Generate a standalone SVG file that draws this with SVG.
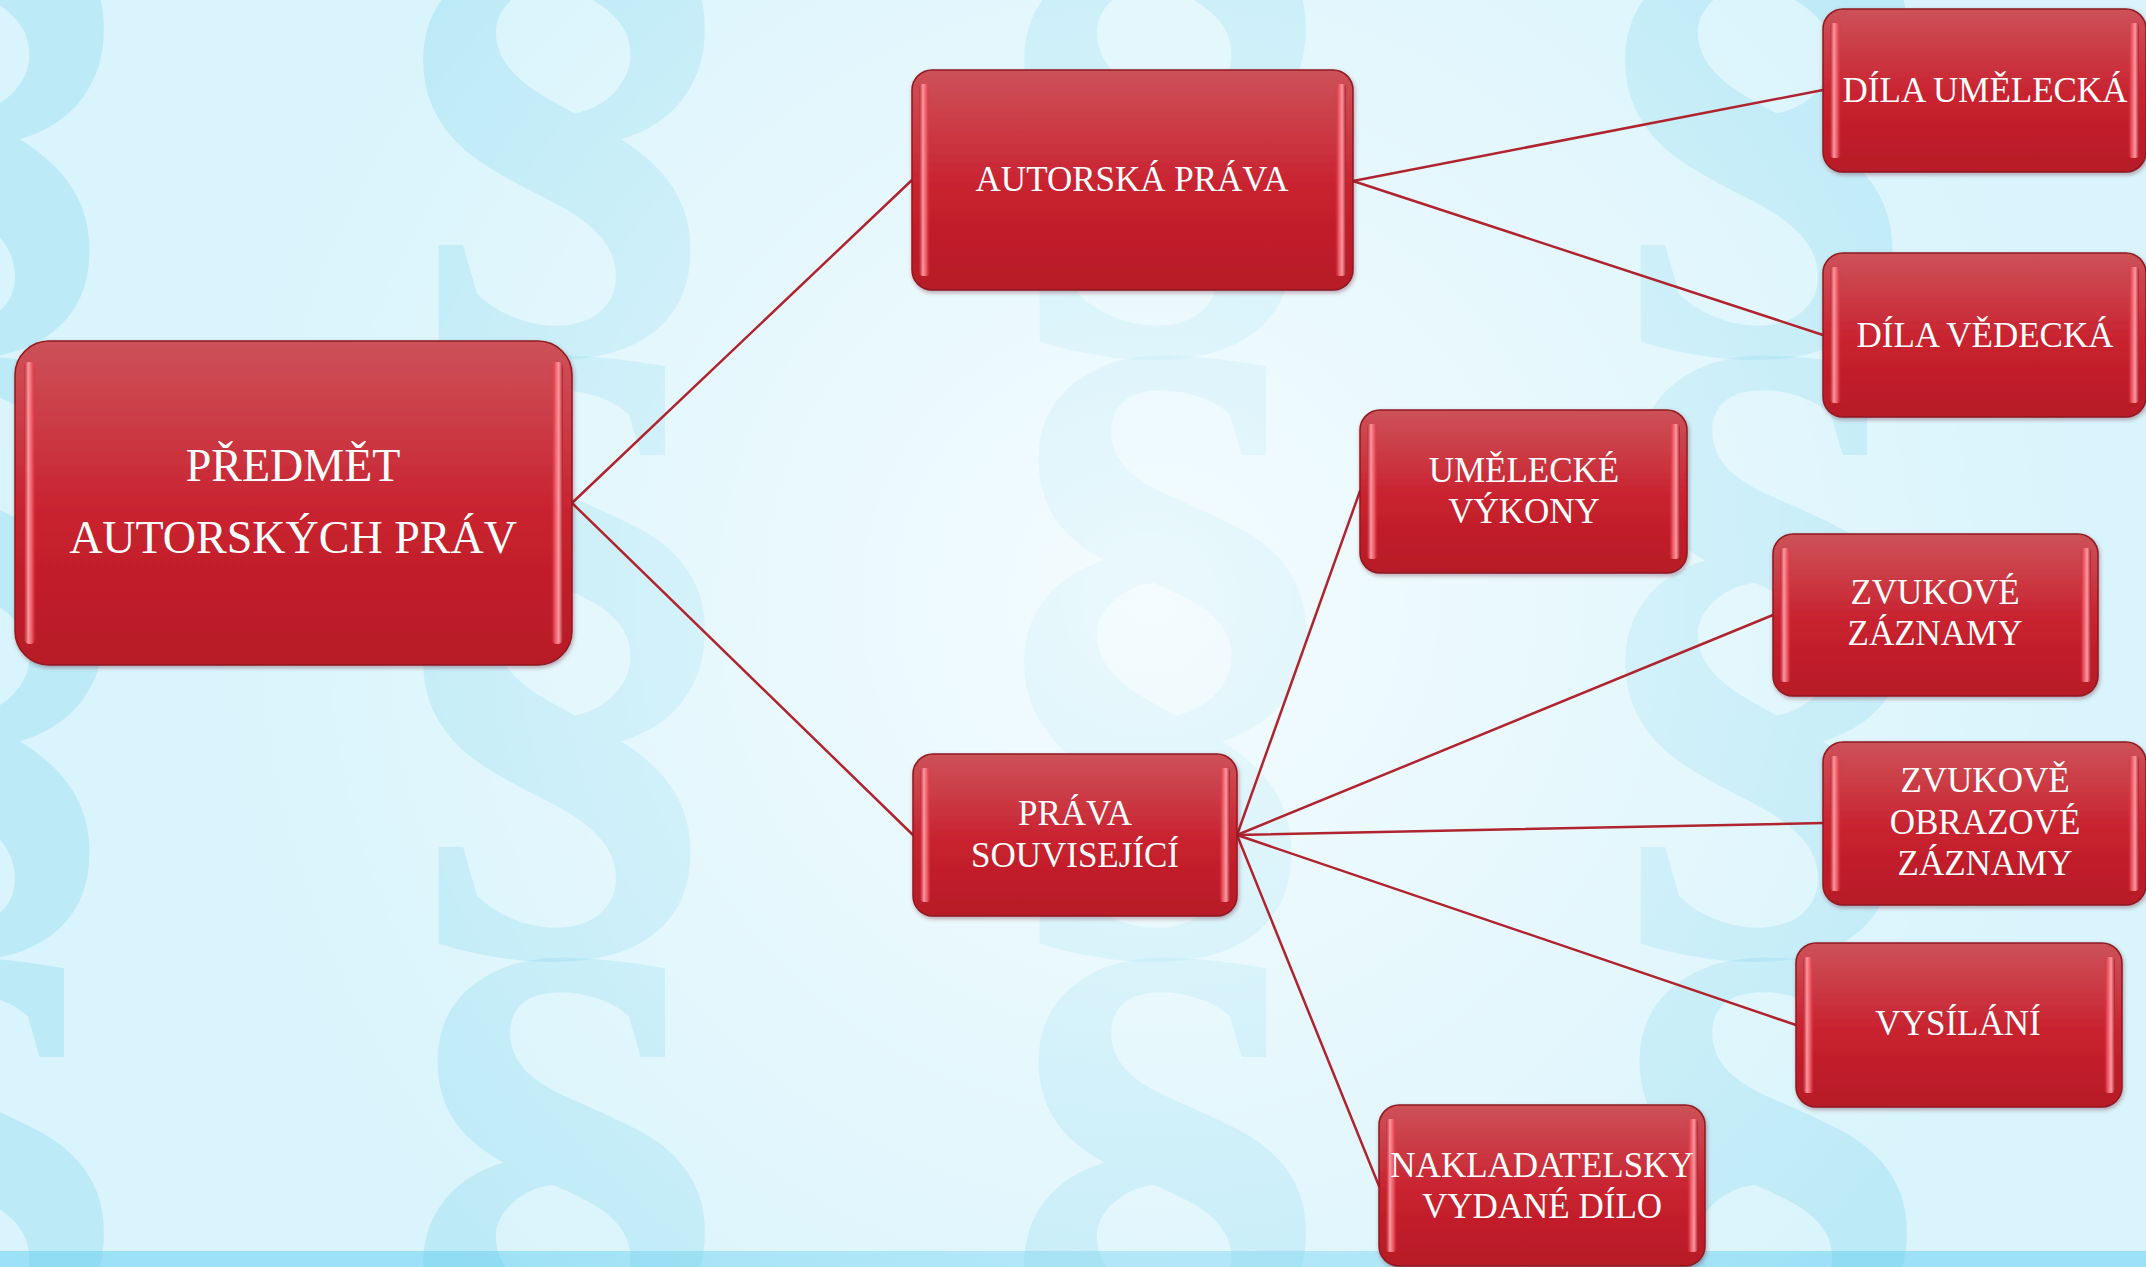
<svg xmlns="http://www.w3.org/2000/svg" width="2146" height="1267" viewBox="0 0 2146 1267">
<style>
.sec{font-family:"Liberation Serif",serif;font-weight:bold;font-size:755px;fill:#6fcfe8;fill-opacity:0.27;text-anchor:middle}
.lbl{font-family:"Liberation Serif",serif;font-size:35px;fill:#ffffff;text-anchor:middle}
.big{font-size:46px}
.conn{stroke:#b0242f;stroke-width:2.5;fill:none;stroke-linecap:round}
.box{fill:url(#nodeFill);stroke:#8e1a22;stroke-width:1.5;filter:url(#shadow)}
.bl{fill:url(#bevL)}
.br{fill:url(#bevR)}
</style>
<defs>
<linearGradient id="nodeFill" x1="0" y1="0" x2="0" y2="1">
<stop offset="0" stop-color="#cd5259"/>
<stop offset="0.4" stop-color="#ca2e3a"/>
<stop offset="0.55" stop-color="#c8212e"/>
<stop offset="1" stop-color="#b71b27"/>
</linearGradient>
<linearGradient id="bevL" x1="0" y1="0" x2="1" y2="0">
<stop offset="0" stop-color="#b8242e" stop-opacity="0.6"/>
<stop offset="0.35" stop-color="#ff97a0"/>
<stop offset="0.7" stop-color="#e6505b"/>
<stop offset="1" stop-color="#d0303c" stop-opacity="0"/>
</linearGradient>
<linearGradient id="bevR" x1="0" y1="0" x2="1" y2="0">
<stop offset="0" stop-color="#d0303c" stop-opacity="0"/>
<stop offset="0.3" stop-color="#e6505b"/>
<stop offset="0.65" stop-color="#ff97a0"/>
<stop offset="1" stop-color="#a81c26"/>
</linearGradient>
<radialGradient id="glow" cx="1150" cy="600" r="950" gradientUnits="userSpaceOnUse">
<stop offset="0" stop-color="#ffffff" stop-opacity="0.7"/>
<stop offset="0.5" stop-color="#ffffff" stop-opacity="0.35"/>
<stop offset="1" stop-color="#ffffff" stop-opacity="0"/>
</radialGradient>
<filter id="shadow" x="-5%" y="-5%" width="110%" height="115%">
<feDropShadow dx="1" dy="2" stdDeviation="2" flood-color="#5a1015" flood-opacity="0.35"/>
</filter>
</defs>

<g id="background">
<rect x="0" y="0" width="2146" height="1267" fill="#d9f4fc"/>
<rect x="0" y="1251" width="2146" height="16" fill="#9de1f6"/>
<g id="section-signs">
<text class="sec" x="-37" y="266">§</text>
<text class="sec" x="564" y="266">§</text>
<text class="sec" x="1165" y="266">§</text>
<text class="sec" x="1766" y="266">§</text>
<text class="sec" x="2367" y="266">§</text>
<text class="sec" x="-37" y="868">§</text>
<text class="sec" x="564" y="868">§</text>
<text class="sec" x="1165" y="868">§</text>
<text class="sec" x="1766" y="868">§</text>
<text class="sec" x="2367" y="868">§</text>
<text class="sec" x="-37" y="1470">§</text>
<text class="sec" x="564" y="1470">§</text>
<text class="sec" x="1165" y="1470">§</text>
<text class="sec" x="1766" y="1470">§</text>
<text class="sec" x="2367" y="1470">§</text>
</g>
<rect x="0" y="0" width="2146" height="1267" fill="url(#glow)"/>
</g>

<g id="connectors">
<line class="conn" x1="572" y1="503" x2="912" y2="180"/>
<line class="conn" x1="572" y1="503" x2="913" y2="835"/>
<line class="conn" x1="1353" y1="181" x2="1823" y2="90"/>
<line class="conn" x1="1353" y1="181" x2="1823" y2="335"/>
<line class="conn" x1="1237" y1="835" x2="1360" y2="491"/>
<line class="conn" x1="1237" y1="835" x2="1773" y2="615"/>
<line class="conn" x1="1237" y1="835" x2="1823" y2="823"/>
<line class="conn" x1="1237" y1="835" x2="1796" y2="1025"/>
<line class="conn" x1="1237" y1="835" x2="1379" y2="1186"/>
</g>

<g id="node-predmet">
<rect class="box" x="15" y="341" width="557" height="324" rx="34"/>
<rect class="bl" x="24" y="362" width="12" height="282" rx="5"/>
<rect class="br" x="551" y="362" width="12" height="282" rx="5"/>
<text class="lbl big" x="293" y="481">PŘEDMĚT</text>
<text class="lbl big" x="293" y="553">AUTORSKÝCH PRÁV</text>
</g>

<g id="node-autorska">
<rect class="box" x="912" y="70" width="441" height="220" rx="20"/>
<rect class="bl" x="919" y="84" width="11" height="192" rx="4"/>
<rect class="br" x="1335" y="84" width="11" height="192" rx="4"/>
<text class="lbl" x="1132" y="191">AUTORSKÁ PRÁVA</text>
</g>

<g id="node-souvisejici">
<rect class="box" x="913" y="754" width="324" height="162" rx="20"/>
<rect class="bl" x="920" y="768" width="11" height="134" rx="4"/>
<rect class="br" x="1219" y="768" width="11" height="134" rx="4"/>
<text class="lbl" x="1075" y="825">PRÁVA</text>
<text class="lbl" x="1075" y="867">SOUVISEJÍCÍ</text>
</g>

<g id="node-dila-umelecka">
<rect class="box" x="1823" y="9" width="323" height="163" rx="20"/>
<rect class="bl" x="1830" y="23" width="11" height="135" rx="4"/>
<rect class="br" x="2128" y="23" width="11" height="135" rx="4"/>
<text class="lbl" x="1985" y="102">DÍLA UMĚLECKÁ</text>
</g>

<g id="node-dila-vedecka">
<rect class="box" x="1823" y="253" width="323" height="164" rx="20"/>
<rect class="bl" x="1830" y="267" width="11" height="136" rx="4"/>
<rect class="br" x="2128" y="267" width="11" height="136" rx="4"/>
<text class="lbl" x="1985" y="347">DÍLA VĚDECKÁ</text>
</g>

<g id="node-umelecke-vykony">
<rect class="box" x="1360" y="410" width="327" height="163" rx="20"/>
<rect class="bl" x="1367" y="424" width="11" height="135" rx="4"/>
<rect class="br" x="1669" y="424" width="11" height="135" rx="4"/>
<text class="lbl" x="1524" y="482">UMĚLECKÉ</text>
<text class="lbl" x="1524" y="523">VÝKONY</text>
</g>

<g id="node-zvukove-zaznamy">
<rect class="box" x="1773" y="534" width="325" height="162" rx="20"/>
<rect class="bl" x="1780" y="548" width="11" height="134" rx="4"/>
<rect class="br" x="2080" y="548" width="11" height="134" rx="4"/>
<text class="lbl" x="1935" y="604">ZVUKOVÉ</text>
<text class="lbl" x="1935" y="645">ZÁZNAMY</text>
</g>

<g id="node-zvukove-obrazove">
<rect class="box" x="1823" y="742" width="323" height="163" rx="20"/>
<rect class="bl" x="1830" y="756" width="11" height="135" rx="4"/>
<rect class="br" x="2128" y="756" width="11" height="135" rx="4"/>
<text class="lbl" x="1985" y="792">ZVUKOVĚ</text>
<text class="lbl" x="1985" y="834">OBRAZOVÉ</text>
<text class="lbl" x="1985" y="875">ZÁZNAMY</text>
</g>

<g id="node-vysilani">
<rect class="box" x="1796" y="943" width="326" height="164" rx="20"/>
<rect class="bl" x="1803" y="957" width="11" height="136" rx="4"/>
<rect class="br" x="2104" y="957" width="11" height="136" rx="4"/>
<text class="lbl" x="1958" y="1035">VYSÍLÁNÍ</text>
</g>

<g id="node-nakladatelsky">
<rect class="box" x="1379" y="1105" width="326" height="161" rx="20"/>
<rect class="bl" x="1386" y="1119" width="11" height="133" rx="4"/>
<rect class="br" x="1687" y="1119" width="11" height="133" rx="4"/>
<text class="lbl" x="1542" y="1177">NAKLADATELSKY</text>
<text class="lbl" x="1542" y="1218">VYDANÉ DÍLO</text>
</g>
</svg>
